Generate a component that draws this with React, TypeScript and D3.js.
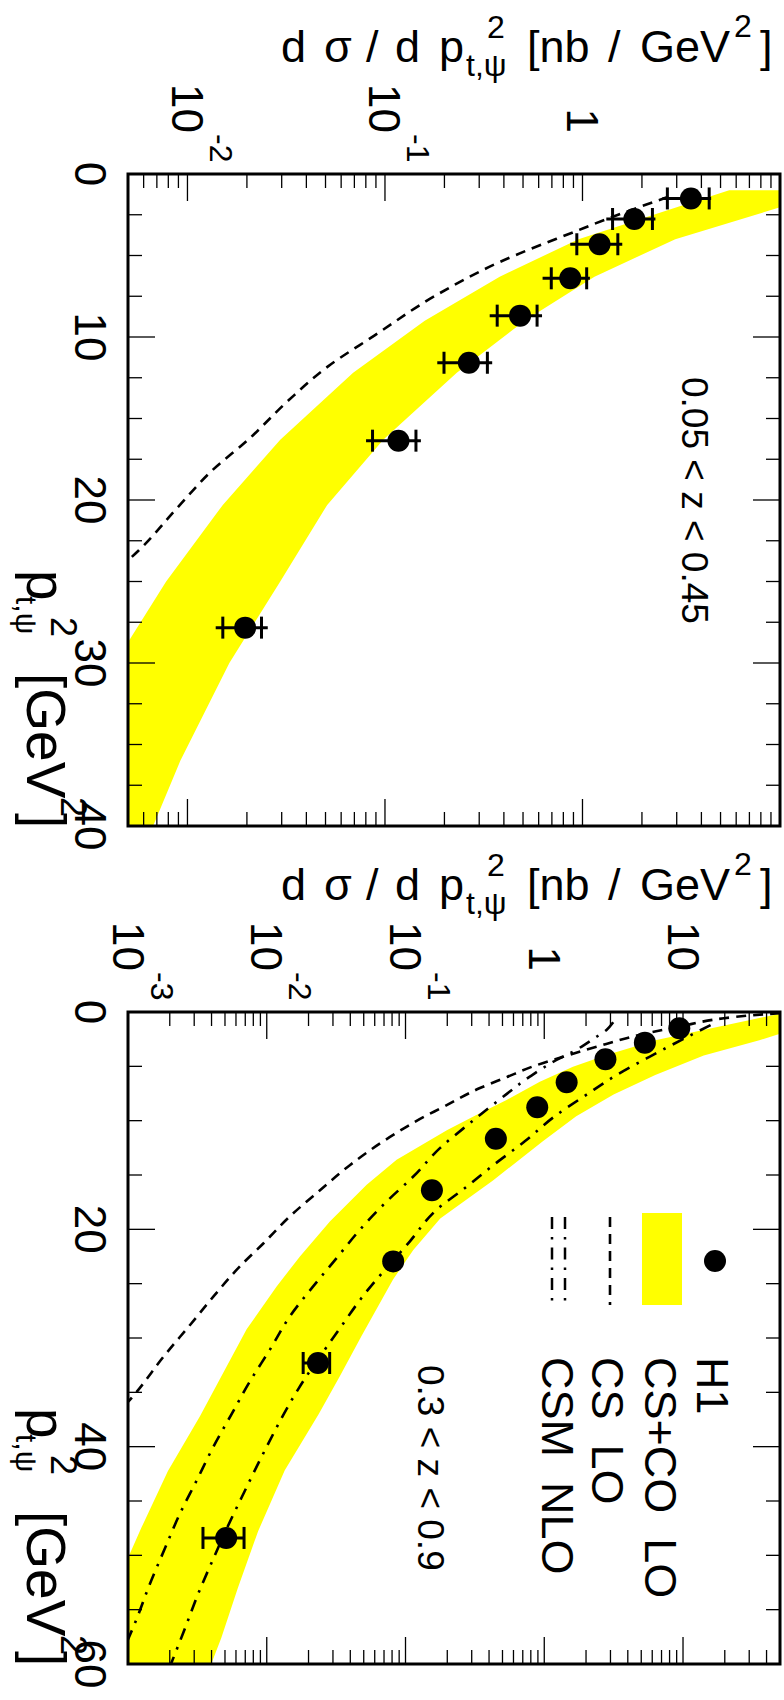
import React from "react";
import * as d3 from "d3";

// ---- panel A : 0.05 < z < 0.45 ----
const ptA = [1.5, 2.76, 4.31, 6.4, 8.69, 11.58, 16.36, 27.83];
const valA = [3.54, 1.83, 1.22, 0.867, 0.483, 0.266, 0.117, 0.0196];
const statLoA = [2.69, 1.42, 0.936, 0.695, 0.37, 0.199, 0.0865, 0.0151];
const statHiA = [4.38, 2.26, 1.51, 1.05, 0.589, 0.33, 0.1435, 0.0237];
const totLoA = [2.54, 1.32, 0.867, 0.628, 0.339, 0.184, 0.0802, 0.0139];
const totHiA = [4.48, 2.34, 1.59, 1.09, 0.624, 0.349, 0.152, 0.0255];

const bandPtA = [1, 2, 4, 6.3, 9, 12.2, 16.3, 20.3, 25, 30, 36, 40];
const bandLoA = [5.53, 3.08, 0.955, 0.381, 0.159, 0.069, 0.0295, 0.0151, 0.0078, 0.0043, 0.0027, 0.002];
const bandHiA = [20, 10.3, 2.95, 1.15, 0.509, 0.231, 0.098, 0.051, 0.0295, 0.0163, 0.0092, 0.0067];

const csPtA = [1.4, 2.7, 3.5, 5.4, 7.5, 9.9, 11.8, 13.9, 16.3, 18.2, 20.4, 23.1, 24];
const csValA = [2.72, 1.37, 0.93, 0.381, 0.178, 0.0887, 0.0515, 0.0324, 0.0203, 0.0133, 0.009, 0.00566, 0.0047];

// ---- panel B : 0.3 < z < 0.9 ----
const ptB = [1.5, 2.82, 4.35, 6.46, 8.76, 11.67, 16.4, 22.95, 32.3, 48.4];
const valB = [9.4, 5.31, 2.76, 1.45, 0.89, 0.448, 0.155, 0.0815, 0.0234, 0.0051];
const errLoB = [null, null, null, null, null, null, null, null, 0.0183, 0.00347];
const errHiB = [null, null, null, null, null, null, null, null, 0.0284, 0.00686];

const bandHiPtB = [0, 1.4, 2.6, 4, 5.8, 7.6, 9.6, 11.9, 15.5, 19, 21.9, 24.6, 29.8, 33.5, 37, 42.2, 47.8, 53, 57.6, 60];
const bandHiB = [126, 70.8, 35.5, 14.1, 6.31, 3.16, 1.7, 0.977, 0.427, 0.178, 0.1138, 0.0815, 0.0483, 0.0337, 0.0237, 0.01346, 0.00865, 0.00619, 0.0047, 0.00398];
const bandLoPtB = [0, 0.2, 2.57, 3.95, 5.03, 6.41, 8.09, 9.47, 10.85, 13.6, 15.9, 19.27, 22.5, 25.25, 29.2, 33.2, 37.2, 42.25, 47.45, 50, 55, 60];
const bandLoB = [57.5, 48.2, 6.44, 2.81, 1.61, 0.929, 0.535, 0.324, 0.2, 0.0863, 0.0525, 0.0285, 0.01734, 0.01178, 0.00716, 0.00486, 0.0033, 0.00194, 0.00125, 0.00102, 0.00068, 0.00045];

const csPtB = [0.1, 0.3, 1.4, 2.1, 3.2, 4.3, 5, 6, 7, 8.9, 9.6, 11.5, 14.1, 16.4, 18.8, 21.3, 23.4, 26.2, 28.8, 31.5, 35.4, 37];
const csValB = [50.1, 31.6, 8.91, 4.89, 2.38, 1.23, 0.832, 0.535, 0.344, 0.177, 0.138, 0.0773, 0.0397, 0.0242, 0.0147, 0.00944, 0.00641, 0.00412, 0.0028, 0.00186, 0.00108, 0.00083];

const nloHiPtB = [1.2, 2.5, 4.1, 5.8, 7.6, 9.6, 11.9, 14.1, 16.2, 18.2, 21.1, 26.3, 29.1, 34.7, 41, 44.1, 47.3, 50.4, 53.6, 56.8, 60];
const nloHiB = [15.8, 10, 5.77, 3.32, 2.02, 1.19, 0.724, 0.429, 0.268, 0.1675, 0.1076, 0.0483, 0.0337, 0.01687, 0.00912, 0.00693, 0.00525, 0.00409, 0.00319, 0.00256, 0.00204];
const nloLoPtB = [0.95, 1.65, 2.42, 3.65, 4.26, 5.95, 8.09, 10.23, 12.53, 15.14, 17.44, 20.04, 22.64, 25.25, 28, 31.07, 33.98, 37, 40.1, 43.2, 46.2, 49.4, 52.7, 55.9, 58];
const nloLoB = [3.14, 2.81, 2.29, 1.61, 1.29, 0.787, 0.473, 0.291, 0.177, 0.1138, 0.0731, 0.0469, 0.0319, 0.0216, 0.01469, 0.01054, 0.00757, 0.00558, 0.00409, 0.0031, 0.00236, 0.00184, 0.00143, 0.00115, 0.00098];

// tick labels
const valLabelsA = [0.01, 0.1, 1];
const valLabelsB = [0.001, 0.01, 0.1, 1, 10];
const ptLabelsA = [0, 10, 20, 30, 40];
const ptLabelsB = [0, 20, 40, 60];
const legendItems = ["H1", "CS+CO  LO", "CS  LO", "CSM  NLO"];

const FONT = "'Liberation Sans', Arial, Helvetica, sans-serif";
const L = 128, R = 780, SIZE = 652;
const CS_DASH = "10,7";
const NLO_DASH = "12,8,2.5,8";
const rot = (x, y) => `translate(${x},${y}) rotate(90)`;

function Panel(p) {
  const top = p.top;
  const bottom = top + SIZE;
  const x = d3.scaleLog().domain([p.vMin, p.vMax]).range([L, R]);
  const y = d3.scaleLinear().domain([0, p.ptMax]).range([top, bottom]);
  const smooth = d3.line().x(d => x(d[1])).y(d => y(d[0])).curve(d3.curveMonotoneY);
  const poly = d3.line().x(d => x(d[1])).y(d => y(d[0]));
  const zip = (a, b) => a.map((t, i) => [t, b[i]]);
  const bandPath = poly([...zip(p.bandHiPt, p.bandHi), ...zip(p.bandLoPt, p.bandLo).reverse()]) + "Z";

  const isMajor = v => Math.abs(Math.log10(v) - Math.round(Math.log10(v))) < 1e-6;
  const vTicks = x.ticks().filter(v => v >= p.vMin * 0.999 && v <= p.vMax * 1.001);
  const ptTicks = d3.range(0, p.ptMax + 1e-6, p.ptMinor);
  const clip = `clip-${p.id}`;
  const ty = top - 112;
  const py = bottom - 256;

  return (
    <g>
      <defs>
        <clipPath id={clip}>
          <rect x={L} y={top} width={SIZE} height={SIZE} />
        </clipPath>
      </defs>
      <g clipPath={`url(#${clip})`}>
        <path d={bandPath} fill="#ffff00" />
        {p.lines.map((ln, i) => (
          <path key={i} d={smooth(zip(ln.pt, ln.val))} fill="none" stroke="#000"
            strokeWidth={2.6} strokeDasharray={ln.dash} />
        ))}
      </g>
      {/* data points */}
      {p.pts.map((t, i) => {
        const cy = y(t);
        const cx = x(p.vals[i]);
        return (
          <g key={i}>
            {p.totLo && p.totLo[i] != null && (
              <line x1={x(p.totLo[i])} x2={x(p.totHi[i])} y1={cy} y2={cy} stroke="#000" strokeWidth={3} />
            )}
            {p.statLo && p.statLo[i] != null && [p.statLo[i], p.statHi[i]].map((v, k) => (
              <line key={k} x1={x(v)} x2={x(v)} y1={cy - 11} y2={cy + 11} stroke="#000" strokeWidth={3} />
            ))}
            <circle cx={cx} cy={cy} r={11} fill="#000" />
          </g>
        );
      })}
      {/* ticks */}
      {vTicks.map((v, i) => {
        const len = isMajor(v) ? 27 : 14;
        return (
          <g key={i} stroke="#000" strokeWidth={1.3}>
            <line x1={x(v)} x2={x(v)} y1={top} y2={top + len} />
            <line x1={x(v)} x2={x(v)} y1={bottom} y2={bottom - len} />
          </g>
        );
      })}
      {ptTicks.map((v, i) => {
        const len = Math.abs(v % p.ptMajor) < 1e-6 ? 27 : 14;
        return (
          <g key={i} stroke="#000" strokeWidth={1.3}>
            <line x1={L} x2={L + len} y1={y(v)} y2={y(v)} />
            <line x1={R} x2={R - len} y1={y(v)} y2={y(v)} />
          </g>
        );
      })}
      <rect x={L} y={top} width={SIZE} height={SIZE} fill="none" stroke="#000" strokeWidth={3} />

      {/* value tick labels */}
      {p.valLabels.map((v, i) => {
        const e = Math.round(Math.log10(v));
        const main = v >= 1 ? String(v) : "10";
        return (
          <g key={i} transform={rot(x(v) - 15.5, top - 41)}>
            <text textAnchor="end" fontSize={44}>{main}</text>
            {v < 1 && <text x={1} y={-38} fontSize={32}>{String(e)}</text>}
          </g>
        );
      })}
      {/* pt tick labels */}
      {p.ptLabels.map((v, i) => (
        <text key={i} transform={rot(75, y(v))} textAnchor="middle" fontSize={44}>{v}</text>
      ))}

      {/* y title (horizontal) */}
      <text y={ty} fontSize={45}>
        <tspan x={281}>d</tspan>
        <tspan x={324}>σ</tspan>
        <tspan x={366}>/</tspan>
        <tspan x={395}>d</tspan>
        <tspan x={439}>p</tspan>
      </text>
      <text x={466} y={ty + 14} fontSize={32}>t,ψ</text>
      <text x={487} y={ty - 24} fontSize={32}>2</text>
      <text y={ty} fontSize={45}>
        <tspan x={527}>[nb</tspan>
        <tspan x={608}>/</tspan>
        <tspan x={640}>GeV</tspan>
      </text>
      <text x={734} y={ty - 25} fontSize={32}>2</text>
      <text x={760} y={ty} fontSize={45}>]</text>

      {/* pt title (rotated) */}
      <g transform={rot(27, py)}>
        <text x={0} y={0} fontSize={55}>p</text>
        <text x={26} y={11} fontSize={30}>t,ψ</text>
        <text x={47} y={-24} fontSize={36}>2</text>
        <text x={103} y={0} fontSize={55}>[GeV</text>
        <text x={227} y={-34} fontSize={36}>2</text>
        <text x={243} y={0} fontSize={55}>]</text>
      </g>

      <text transform={rot(p.zX, p.zY)} fontSize={37}>{p.zText}</text>
    </g>
  );
}

function Legend() {
  const y0 = 1217, y1 = 1305;
  return (
    <g>
      <circle cx={715} cy={1261} r={11} fill="#000" />
      <rect x={642} y={1213} width={40} height={92} fill="#ffff00" />
      <line x1={610} x2={610} y1={y0} y2={y1} stroke="#000" strokeWidth={2.6} strokeDasharray={CS_DASH} />
      <line x1={552} x2={552} y1={y0} y2={y1} stroke="#000" strokeWidth={2.5} strokeDasharray={NLO_DASH} />
      <line x1={565} x2={565} y1={y0} y2={y1} stroke="#000" strokeWidth={2.5} strokeDasharray={NLO_DASH} />
      {[697, 645, 592, 542].map((bx, i) => (
        <text key={i} transform={rot(bx, 1357)} fontSize={45} xmlSpace="preserve"
          style={{ whiteSpace: "pre" }}>{legendItems[i]}</text>
      ))}
    </g>
  );
}

export default function App() {
  return (
    <svg width={784} height={1700} style={{ position: "absolute", left: 0, top: 0, background: "#fff" }}
      fontFamily={FONT} fill="#000">
      <rect width={784} height={1700} fill="#fff" />
      <Panel id="a" top={174} vMin={0.005} vMax={10} ptMax={40} ptMajor={10} ptMinor={2.5}
        valLabels={valLabelsA} ptLabels={ptLabelsA}
        bandHiPt={bandPtA} bandHi={bandHiA} bandLoPt={bandPtA} bandLo={bandLoA}
        lines={[{ pt: csPtA, val: csValA, dash: CS_DASH }]}
        pts={ptA} vals={valA} statLo={statLoA} statHi={statHiA} totLo={totLoA} totHi={totHiA}
        zText="0.05 < z < 0.45" zX={682} zY={377} />
      <Panel id="b" top={1012} vMin={0.001} vMax={50} ptMax={60} ptMajor={20} ptMinor={5}
        valLabels={valLabelsB} ptLabels={ptLabelsB}
        bandHiPt={bandHiPtB} bandHi={bandHiB} bandLoPt={bandLoPtB} bandLo={bandLoB}
        lines={[
          { pt: csPtB, val: csValB, dash: CS_DASH },
          { pt: nloHiPtB, val: nloHiB, dash: NLO_DASH },
          { pt: nloLoPtB, val: nloLoB, dash: NLO_DASH },
        ]}
        pts={ptB} vals={valB} statLo={errLoB} statHi={errHiB} totLo={errLoB} totHi={errHiB}
        zText="0.3 < z < 0.9" zX={418} zY={1365} />
      <Legend />
    </svg>
  );
}
